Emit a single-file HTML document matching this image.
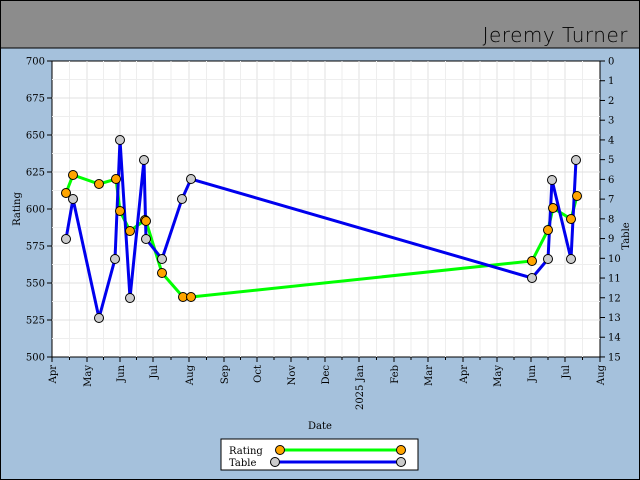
<!DOCTYPE html>
<html><head><meta charset="utf-8"><style>
html,body{margin:0;padding:0;width:640px;height:480px;overflow:hidden;background:#a5c1dc}
svg{display:block}
</style></head><body>
<svg width="640" height="480" xmlns="http://www.w3.org/2000/svg" font-family="DejaVu Serif, Liberation Serif, serif">
<rect x="0" y="0" width="640" height="480" fill="#a5c1dc" stroke="#000" stroke-width="2"/>
<rect x="1" y="1" width="638" height="47" fill="#8c8c8c"/>
<line x1="0" y1="48" x2="640" y2="48" stroke="#000"/>
<text x="628" y="42" text-anchor="end" font-family="DejaVu Sans, sans-serif" font-weight="300" font-size="20" fill="#000" letter-spacing="0.5">Jeremy Turner</text>
<rect x="52" y="61" width="548" height="296" fill="#fff" stroke="#000"/>
<g stroke="#e0e0e0" stroke-width="1" id="grid"></g>
<g id="ticks" stroke="#000"></g>
<g id="lbl" font-size="10" fill="#000"></g>
<text x="20" y="209" font-size="10" transform="rotate(-90 20 209)" text-anchor="middle">Rating</text>
<text x="629" y="236" font-size="10" transform="rotate(-90 629 236)" text-anchor="middle">Table</text>
<text x="320" y="429" font-size="10" text-anchor="middle">Date</text>
<g id="series"></g>
<rect x="221" y="439" width="197" height="31" fill="#fff" stroke="#000"/>
<text x="229" y="454" font-size="10">Rating</text>
<text x="229" y="466" font-size="10">Table</text>
<line x1="280" y1="450" x2="401" y2="450" stroke="#00ff00" stroke-width="3"/>
<line x1="275" y1="462" x2="401" y2="462" stroke="#0000ee" stroke-width="3"/>
<circle cx="280" cy="450" r="4.5" fill="#ffa500" stroke="#000"/>
<circle cx="401" cy="450" r="4.5" fill="#ffa500" stroke="#000"/>
<circle cx="275" cy="462" r="4.5" fill="#ccc" stroke="#000"/>
<circle cx="401" cy="462" r="4.5" fill="#ccc" stroke="#000"/>
</svg>
<script>
const NS="http://www.w3.org/2000/svg";
function el(p,t,a,txt){const e=document.createElementNS(NS,t);for(const k in a)e.setAttribute(k,a[k]);if(txt!==undefined)e.textContent=txt;document.getElementById(p).appendChild(e);}
const mx=[52,87,120,153,189,224,257,291,325,359,394,428,463,497,531,565,600];
const mn=["Apr","May","Jun","Jul","Aug","Sep","Oct","Nov","Dec","2025 Jan","Feb","Mar","Apr","May","Jun","Jul","Aug"];
mx.forEach((x,i)=>{ const mid = i<16? (x+mx[i+1])/2:null;
 if(i>0&&i<16) el("grid","line",{x1:x,y1:61,x2:x,y2:357});
 if(mid) el("grid","line",{x1:mid,y1:61,x2:mid,y2:357,stroke:"#eeeeee"});
 el("ticks","line",{x1:x,y1:357,x2:x,y2:362});
 if(mid) el("ticks","line",{x1:mid,y1:357,x2:mid,y2:360});
 el("lbl","text",{x:x+4,y:365,transform:`rotate(-90 ${x+4} 365)`,"text-anchor":"end"},mn[i]);
});
for(let r=512.5;r<700;r+=25){const y=357-1.48*(r-500);el("grid","line",{x1:52,y1:y,x2:600,y2:y,stroke:"#eeeeee"});}
for(let r=500;r<=700;r+=25){const y=357-1.48*(r-500);
 if(r>500&&r<700) el("grid","line",{x1:52,y1:y,x2:600,y2:y});
 el("ticks","line",{x1:47,y1:y,x2:52,y2:y});
 el("lbl","text",{x:45,y:y+3.5,"text-anchor":"end"},r);}
for(let t=0;t<=15;t++){const y=61+t*19.73;el("ticks","line",{x1:600,y1:y,x2:605,y2:y});
 el("lbl","text",{x:608,y:y+3.5},t);}
const R=[[66,193],[73,175],[99,184],[116,179],[120,211],[130,231],[145,220],[146,221],[162,273],[183,297],[191,297],[532,261],[548,230],[553,208],[571,219],[577,196]];
const T=[[66,239],[73,199],[99,318],[115,259],[120,140],[130,298],[144,160],[146,239],[162,259],[182,199],[191,179],[532,278],[548,259],[552,180],[571,259],[576,160]];
el("series","polyline",{points:R.map(p=>p.join(",")).join(" "),fill:"none",stroke:"#00ff00","stroke-width":3});
el("series","polyline",{points:T.map(p=>p.join(",")).join(" "),fill:"none",stroke:"#0000ee","stroke-width":3});
R.forEach(p=>el("series","circle",{cx:p[0],cy:p[1],r:4.5,fill:"#ffa500",stroke:"#000"}));
T.forEach(p=>el("series","circle",{cx:p[0],cy:p[1],r:4.5,fill:"#ccc",stroke:"#000"}));
</script>
</body></html>
